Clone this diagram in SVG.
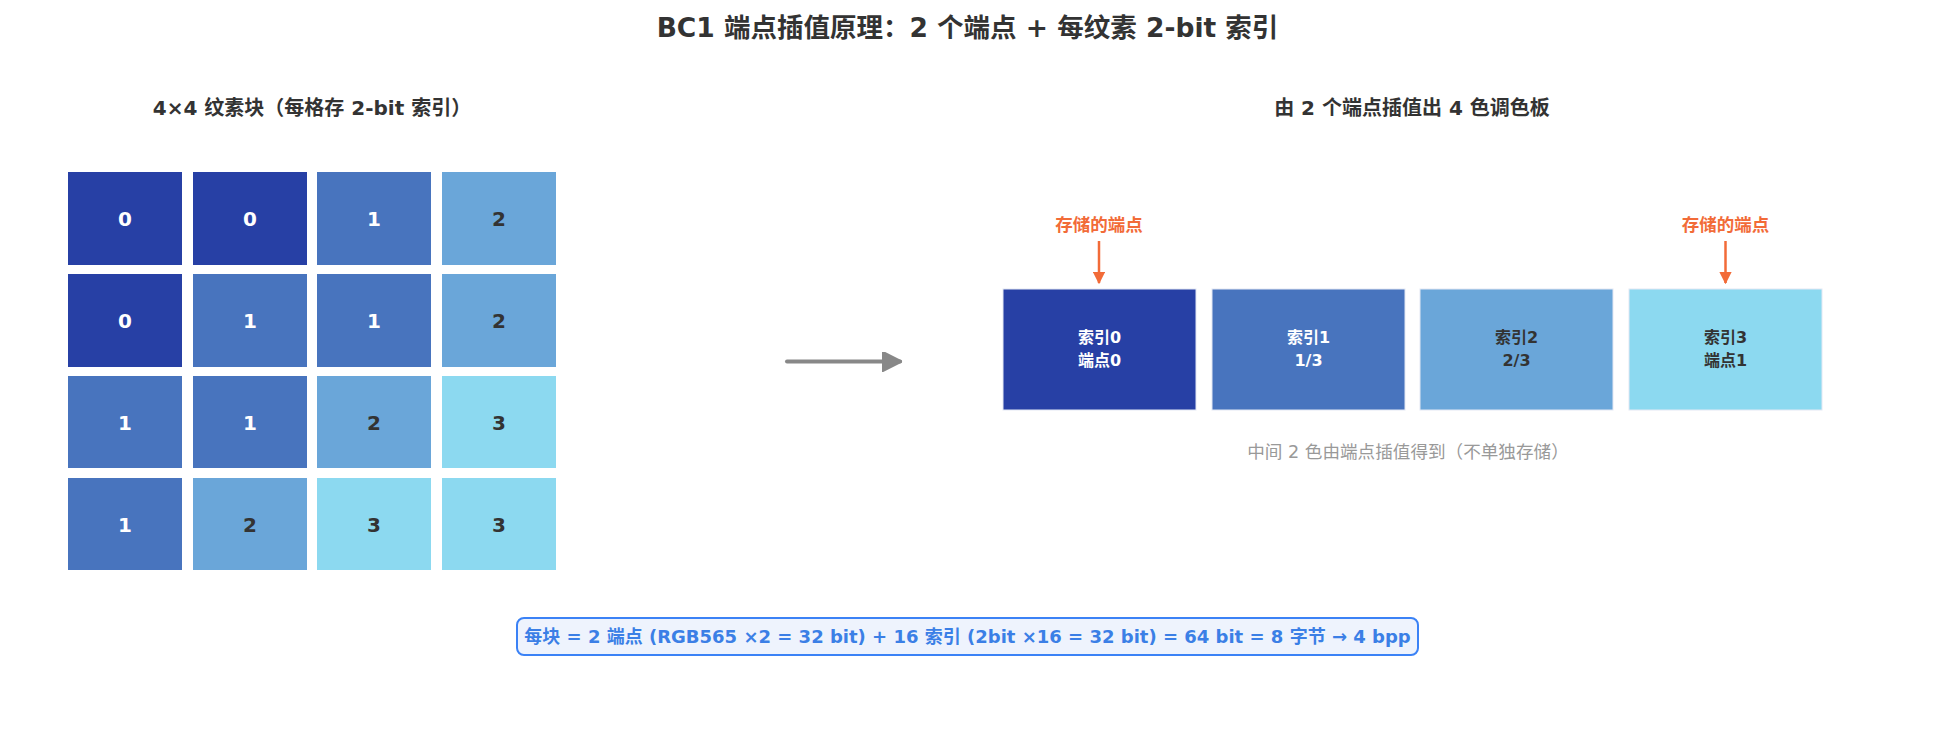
<svg xmlns="http://www.w3.org/2000/svg" width="1935" height="736" viewBox="0 0 1935 736">
<defs>
<style>
text{font-family:"DejaVu Sans","Noto Sans CJK SC",sans-serif;font-weight:bold;text-anchor:middle;}
.title{font-size:26.5px;fill:#333;}
.sub{font-size:20px;fill:#333;}
.c0{fill:#2740A5;}
.c1{fill:#4874BE;}
.c2{fill:#6AA6D9;}
.c3{fill:#8CD9F0;}
.num{font-size:20px;}
.lt{fill:#fff;}
.dk{fill:#333;}
.pal{stroke:#e3e8f4;stroke-width:1;}
.bt{font-size:16px;}
.tag{font-size:17.5px;fill:#F26B38;}
.note{font-size:17.6px;fill:#999;font-weight:normal;}
.sum{font-size:18px;fill:#3B7FE6;}
</style>
<marker id="ah" viewBox="0 0 10 10" refX="9" refY="5" markerWidth="5" markerHeight="5" orient="auto" markerUnits="strokeWidth">
<path d="M0,0 L10,5 L0,10 z" fill="#888" stroke="#888" stroke-linejoin="round"/>
</marker>
<marker id="ao" viewBox="0 0 10 10" refX="9" refY="5" markerWidth="5" markerHeight="5" orient="auto" markerUnits="strokeWidth">
<path d="M0,0 L10,5 L0,10 z" fill="#F26B38"/>
</marker>
</defs>
<rect width="1935" height="736" fill="#fff"/>
<text class="title" x="967.5" y="37">BC1 端点插值原理：2 个端点 + 每纹素 2-bit 索引</text>
<text class="sub" x="312" y="115">4×4 纹素块（每格存 2-bit 索引）</text>
<text class="sub" x="1412" y="115">由 2 个端点插值出 4 色调色板</text>

<g id="grid">
<g id="cell-0-0"><rect class="c0" x="68" y="172" width="114" height="93"/><text class="num lt" x="125" y="225.5">0</text></g>
<g id="cell-0-1"><rect class="c0" x="193" y="172" width="114" height="93"/><text class="num lt" x="250" y="225.5">0</text></g>
<g id="cell-0-2"><rect class="c1" x="317" y="172" width="114" height="93"/><text class="num lt" x="374" y="225.5">1</text></g>
<g id="cell-0-3"><rect class="c2" x="442" y="172" width="114" height="93"/><text class="num dk" x="499" y="225.5">2</text></g>

<g id="cell-1-0"><rect class="c0" x="68" y="274" width="114" height="93"/><text class="num lt" x="125" y="327.5">0</text></g>
<g id="cell-1-1"><rect class="c1" x="193" y="274" width="114" height="93"/><text class="num lt" x="250" y="327.5">1</text></g>
<g id="cell-1-2"><rect class="c1" x="317" y="274" width="114" height="93"/><text class="num lt" x="374" y="327.5">1</text></g>
<g id="cell-1-3"><rect class="c2" x="442" y="274" width="114" height="93"/><text class="num dk" x="499" y="327.5">2</text></g>

<g id="cell-2-0"><rect class="c1" x="68" y="376" width="114" height="92"/><text class="num lt" x="125" y="429.5">1</text></g>
<g id="cell-2-1"><rect class="c1" x="193" y="376" width="114" height="92"/><text class="num lt" x="250" y="429.5">1</text></g>
<g id="cell-2-2"><rect class="c2" x="317" y="376" width="114" height="92"/><text class="num dk" x="374" y="429.5">2</text></g>
<g id="cell-2-3"><rect class="c3" x="442" y="376" width="114" height="92"/><text class="num dk" x="499" y="429.5">3</text></g>

<g id="cell-3-0"><rect class="c1" x="68" y="478" width="114" height="92"/><text class="num lt" x="125" y="531.5">1</text></g>
<g id="cell-3-1"><rect class="c2" x="193" y="478" width="114" height="92"/><text class="num dk" x="250" y="531.5">2</text></g>
<g id="cell-3-2"><rect class="c3" x="317" y="478" width="114" height="92"/><text class="num dk" x="374" y="531.5">3</text></g>
<g id="cell-3-3"><rect class="c3" x="442" y="478" width="114" height="92"/><text class="num dk" x="499" y="531.5">3</text></g>
</g>

<g id="palette-0"><rect class="c0 pal" x="1003" y="289" width="193" height="121"/><text class="bt lt" x="1099.5" y="343">索引0</text><text class="bt lt" x="1099.5" y="366">端点0</text></g>
<g id="palette-1"><rect class="c1 pal" x="1212" y="289" width="193" height="121"/><text class="bt lt" x="1308.5" y="343">索引1</text><text class="bt lt" x="1308.5" y="366">1/3</text></g>
<g id="palette-2"><rect class="c2 pal" x="1420" y="289" width="193" height="121"/><text class="bt dk" x="1516.5" y="343">索引2</text><text class="bt dk" x="1516.5" y="366">2/3</text></g>
<g id="palette-3"><rect class="c3 pal" x="1629" y="289" width="193" height="121"/><text class="bt dk" x="1725.5" y="343">索引3</text><text class="bt dk" x="1725.5" y="366">端点1</text></g>

<g id="tag-0"><text class="tag" x="1099" y="231">存储的端点</text></g>
<g id="tag-1"><text class="tag" x="1725.5" y="231">存储的端点</text></g>

<g id="connectors">
<line x1="787" y1="361.5" x2="900" y2="361.5" stroke="#888" stroke-width="4" stroke-linecap="round" marker-end="url(#ah)"/>
<line x1="1099" y1="241" x2="1099" y2="283" stroke="#F26B38" stroke-width="2.5" marker-end="url(#ao)"/>
<line x1="1725.5" y1="241" x2="1725.5" y2="283" stroke="#F26B38" stroke-width="2.5" marker-end="url(#ao)"/>
</g>

<text class="note" x="1408" y="458">中间 2 色由端点插值得到（不单独存储）</text>

<g id="summary">
<rect x="517" y="618" width="901" height="37" rx="7" fill="#EEF3FD" stroke="#3B82F6" stroke-width="2"/>
<text class="sum" x="967.5" y="643">每块 = 2 端点 (RGB565 ×2 = 32 bit) + 16 索引 (2bit ×16 = 32 bit) = 64 bit = 8 字节 → 4 bpp</text>
</g>
</svg>
